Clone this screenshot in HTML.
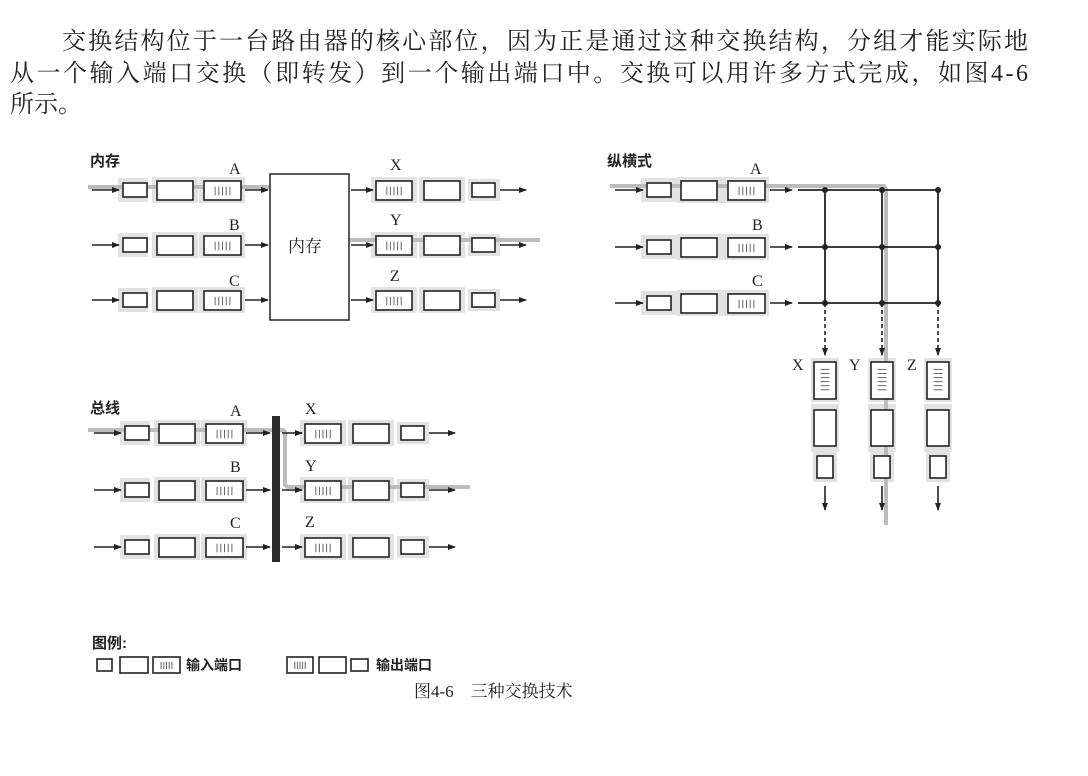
<!DOCTYPE html>
<html><head><meta charset="utf-8"><style>
html,body{margin:0;padding:0;background:#fff;width:1088px;height:776px;overflow:hidden}
svg{display:block}
.t{font-family:"Liberation Serif","Noto Serif CJK SC",serif;fill:#222}
.b{font-family:"Liberation Sans","Noto Sans CJK SC",sans-serif;font-weight:bold;fill:#222}
</style></head><body>
<svg id="s" width="1088" height="776" xmlns="http://www.w3.org/2000/svg">
<defs><marker id="ah" markerWidth="8" markerHeight="8" refX="7" refY="4" orient="auto" markerUnits="userSpaceOnUse"><path d="M0,1 L8,4 L0,7 z" fill="#222"/></marker></defs>
<g id="bg"></g>
<g id="hl"></g>
<g id="fg"></g>
<text class="t" x="62" y="49" font-size="24" textLength="966" lengthAdjust="spacing">交换结构位于一台路由器的核心部位，因为正是通过这种交换结构，分组才能实际地</text>
<text class="t" x="10" y="81" font-size="24" textLength="1018" lengthAdjust="spacing">从一个输入端口交换（即转发）到一个输出端口中。交换可以用许多方式完成，如图4-6</text>
<text class="t" x="10" y="112" font-size="24">所示。</text>
<text class="b" x="90" y="166" font-size="15">内存</text>
<text class="b" x="607" y="166" font-size="15">纵横式</text>
<text class="b" x="90" y="413" font-size="15">总线</text>
<text class="t" x="288" y="252" font-size="17">内存</text>
<g class="t" font-size="16">
<text x="229" y="174">A</text><text x="229" y="230">B</text><text x="229" y="286">C</text>
<text x="390" y="170">X</text><text x="390" y="225">Y</text><text x="390" y="281">Z</text>
<text x="750" y="174">A</text><text x="752" y="230">B</text><text x="752" y="286">C</text>
<text x="792" y="370">X</text><text x="849" y="370">Y</text><text x="907" y="370">Z</text>
<text x="230" y="416">A</text><text x="230" y="472">B</text><text x="230" y="528">C</text>
<text x="305" y="414">X</text><text x="305" y="471">Y</text><text x="305" y="527">Z</text>
</g>
<text class="b" x="92" y="648" font-size="15">图例:</text>
<text class="b" x="186" y="670" font-size="14">输入端口</text>
<text class="b" x="376" y="670" font-size="14">输出端口</text>
<text class="t" x="414" y="697" font-size="17">图4-6　三种交换技术</text>
</svg>
<script>
var NS="http://www.w3.org/2000/svg";
function el(g,t,a){var e=document.createElementNS(NS,t);for(var k in a)e.setAttribute(k,a[k]);document.getElementById(g).appendChild(e);return e}
function rect(x,y,w,h){el('fg','rect',{x:x,y:y,width:w,height:h,fill:'#fff',stroke:'#222','stroke-width':1.6})}
function band(x,y,w,h){el('bg','rect',{x:x,y:y,width:w,height:h,fill:'#e2e2e2'})}
function stripesH(x,y,w,h){rect(x,y,w,h);for(var i=0;i<5;i++){var xx=x+w*0.3+i*w*0.1;el('fg','line',{x1:xx,y1:y+h*0.3,x2:xx,y2:y+h*0.75,stroke:'#666','stroke-width':1})}}
function stripesV(x,y,w,h){rect(x,y,w,h);for(var i=0;i<6;i++){var yy=y+h*0.2+i*h*0.11;el('fg','line',{x1:x+w*0.3,y1:yy,x2:x+w*0.7,y2:yy,stroke:'#666','stroke-width':1})}}
function arr(x1,y1,x2,y2,dash){var a={x1:x1,y1:y1,x2:x2,y2:y2,stroke:'#222','stroke-width':1.6,'marker-end':'url(#ah)'};if(dash)a['stroke-dasharray']='4,3';el('fg','line',a)}
function line(x1,y1,x2,y2){el('fg','line',{x1:x1,y1:y1,x2:x2,y2:y2,stroke:'#222','stroke-width':1.8})}
function inRow(y,o){o=o||0;
 band(118+o,y-12,30,24);band(152+o,y-13,46,26);band(199+o,y-13,46,26);
 arr(92+o,y,119+o,y);rect(123+o,y-7,24,14);rect(157+o,y-9,36,19);stripesH(204+o,y-9,37,19);}
function outRow(x,y){band(x-5,y-13,46,26);band(x+43,y-13,46,26);band(x+92,y-11,32,22);
 stripesH(x,y-9,36,19);rect(x+48,y-9,36,19);rect(x+96,y-7,23,14);arr(x+124,y,x+150,y);}
[190,245,300].forEach(function(y){inRow(y);arr(245,y,268,y);outRow(376,y);arr(351,y,373,y);});
el('fg','rect',{x:270,y:174,width:79,height:146,fill:'#fff',stroke:'#222','stroke-width':1.5});
el('hl','path',{d:'M88,187 L270,187 C300,200 320,236 350,240 L540,240',fill:'none',stroke:'#bcbcbc','stroke-width':4});
[433,490,547].forEach(function(y){inRow(y,2);arr(246,y,270,y);outRow(305,y);arr(282,y,302,y);});
el('fg','rect',{x:272,y:416,width:8,height:146,fill:'#2a2a2a'});
el('hl','path',{d:'M88,430 L283,430 L285,432 L285,485 L288,487 L470,487',fill:'none',stroke:'#bcbcbc','stroke-width':4});
[190,247,303].forEach(function(y){
 band(641,y-12,36,24);band(677,y-13,46,26);band(723,y-13,46,26);
 arr(615,y,643,y);rect(647,y-7,24,14);rect(681,y-9,36,19);stripesH(728,y-9,37,19);arr(770,y,792,y);line(798,y,938,y);});
[825,882,938].forEach(function(x){line(x,190,x,303);
 [190,247,303].forEach(function(y){el('fg','circle',{cx:x,cy:y,r:3,fill:'#222'})});
 arr(x,303,x,355,true);
 band(x-14,358,28,44);band(x-14,404,28,48);band(x-12,452,24,30);
 stripesV(x-11,362,22,37);rect(x-11,410,22,36);rect(x-8,456,16,22);arr(x,486,x,510);});
el('hl','path',{d:'M610,186 L884,186 L886,189 L886,525',fill:'none',stroke:'#bcbcbc','stroke-width':4});
rect(97,659,15,12);rect(120,657,28,16);stripesH(153,657,27,16);
stripesH(287,657,26,16);rect(319,657,27,16);rect(351,659,17,12);
</script>
</body></html>
